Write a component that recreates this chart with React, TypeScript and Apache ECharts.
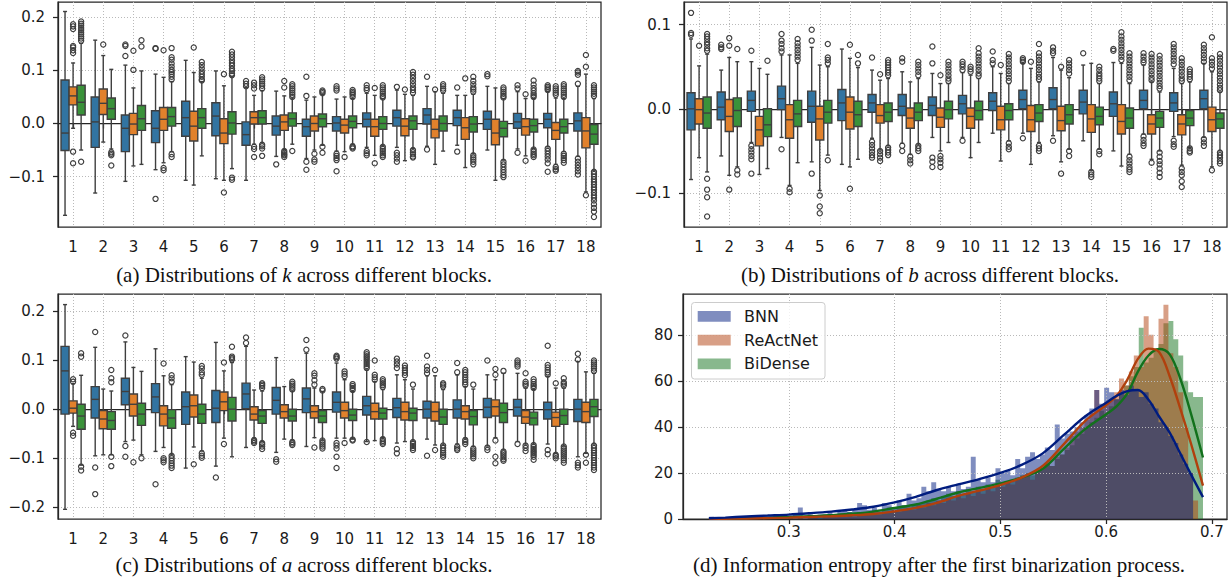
import { useEffect, useRef } from 'react';
import * as echarts from 'echarts';

const BLOCKS = ['1', '2', '3', '4', '5', '6', '7', '8', '9', '10', '11', '12', '13', '14', '15', '16', '17', '18'];
const HUE_COLORS = ['#3274a1', '#e1812c', '#3a923a'];
const DARK_COLORS = ['#001c7f', '#b1400d', '#12711c'];
const LEGEND_LABELS = ['BNN', 'ReActNet', 'BiDense'];

// ---------- (a) k : [lower whisker, Q1, median, Q3, upper whisker] ----------
const K_BLUE = [
  [-0.173, -0.051, -0.018, 0.082, 0.211], [-0.131, -0.045, 0.003, 0.05, 0.157], [-0.109, -0.053, -0.009, 0.016, 0.11],
  [-0.087, -0.036, -0.009, 0.024, 0.093], [-0.107, -0.024, 0.011, 0.042, 0.119], [-0.104, -0.023, 0.014, 0.039, 0.099],
  [-0.107, -0.041, -0.021, 0.003, 0.068], [-0.062, -0.022, -0.005, 0.014, 0.061], [-0.066, -0.024, -0.006, 0.008, 0.044],
  [-0.052, -0.014, 0.001, 0.013, 0.046], [-0.045, -0.006, 0.008, 0.02, 0.057], [-0.045, -0.005, 0.011, 0.025, 0.063],
  [-0.043, -0.001, 0.016, 0.028, 0.07], [-0.041, -0.004, 0.011, 0.025, 0.053], [-0.05, -0.011, 0.008, 0.023, 0.07],
  [-0.048, -0.009, 0.003, 0.019, 0.06], [-0.044, -0.008, 0.008, 0.019, 0.06], [-0.062, -0.014, 0.005, 0.02, 0.07],
];
const K_ORANGE = [
  [-0.009, 0.035, 0.052, 0.069, 0.114], [-0.035, 0.017, 0.038, 0.065, 0.128], [-0.08, -0.021, -0.001, 0.019, 0.067],
  [-0.074, -0.013, 0.008, 0.03, 0.087], [-0.116, -0.033, -0.005, 0.023, 0.096], [-0.107, -0.038, -0.018, 0.009, 0.071],
  [-0.039, -0.001, 0.011, 0.022, 0.053], [-0.049, -0.013, 0.003, 0.016, 0.052], [-0.05, -0.014, 0.0, 0.014, 0.05],
  [-0.053, -0.018, -0.003, 0.008, 0.05], [-0.06, -0.024, -0.006, 0.008, 0.053], [-0.07, -0.023, -0.005, 0.009, 0.055],
  [-0.077, -0.027, -0.011, 0.008, 0.06], [-0.083, -0.03, -0.008, 0.011, 0.053], [-0.107, -0.04, -0.018, 0.008, 0.067],
  [-0.061, -0.022, -0.006, 0.009, 0.047], [-0.077, -0.03, -0.013, 0.002, 0.048], [-0.129, -0.046, -0.014, 0.011, 0.093],
];
const K_GREEN = [
  [-0.05, 0.016, 0.04, 0.072, 0.151], [-0.048, 0.008, 0.028, 0.048, 0.102], [-0.077, -0.013, 0.009, 0.034, 0.099],
  [-0.053, -0.005, 0.013, 0.03, 0.079], [-0.061, -0.009, 0.011, 0.028, 0.079], [-0.085, -0.02, 0.001, 0.022, 0.088],
  [-0.036, -0.001, 0.011, 0.024, 0.062], [-0.039, -0.005, 0.009, 0.02, 0.048], [-0.041, -0.006, 0.009, 0.018, 0.055],
  [-0.039, -0.008, 0.004, 0.014, 0.047], [-0.042, -0.011, 0.0, 0.013, 0.047], [-0.047, -0.011, 0.005, 0.014, 0.053],
  [-0.052, -0.014, 0.0, 0.014, 0.057], [-0.057, -0.016, -0.001, 0.013, 0.055], [-0.069, -0.025, -0.009, 0.004, 0.047],
  [-0.047, -0.016, -0.004, 0.008, 0.047], [-0.053, -0.018, -0.006, 0.008, 0.047], [-0.088, -0.039, -0.02, -0.002, 0.047],
];
const K_BLUE_OUT = [
  [], [], [0.149, 0.146, 0.127], [0.142, 0.141, -0.142], [], [], [0.08, 0.075, 0.07], [-0.077],
  [0.088, 0.052, -0.072, -0.087], [0.07, 0.066, 0.062, -0.057, -0.061, -0.065, -0.069, -0.09],
  [0.072, 0.067, 0.063, -0.052, -0.056, -0.06], [0.069, -0.055, -0.06, -0.066, -0.072], [0.088, -0.049], [0.068, -0.053],
  [0.093, 0.089], [0.072, 0.066, -0.055], [0.072, 0.069, 0.066, 0.063, -0.047, -0.052, -0.057, -0.062, -0.068, -0.075, -0.091],
  [0.099, 0.096, 0.092, 0.075, -0.066, -0.072, -0.078, -0.084, -0.09, -0.096],
];
const K_ORANGE_OUT = [
  [0.187, 0.183, 0.178, 0.146, 0.143, 0.138, 0.133, -0.053, -0.075], [0.149], [0.137, 0.101], [0.138, -0.084, -0.088],
  [0.143], [0.093, -0.13], [0.077, 0.072, 0.066, -0.044, -0.048, -0.063], [0.08, 0.068, -0.052, -0.055, -0.058, -0.06, -0.063],
  [-0.057, -0.068, -0.072], [-0.063], [0.067, -0.075], [0.064], [0.064], [0.085], [], [0.055, -0.07],
  [0.07, 0.066, 0.062, 0.058, 0.054, -0.082, -0.086, -0.089], [0.129, 0.107, -0.135],
];
const K_GREEN_OUT = [
  [0.192, 0.188, 0.184, 0.18, 0.176, 0.172, 0.168, 0.164, 0.16, 0.156, -0.072], [-0.054, -0.057, -0.06, -0.079], [0.157, 0.145],
  [0.142, 0.125, 0.12, 0.113, 0.107, 0.101, 0.097, 0.093, 0.088, 0.083, -0.058, -0.063],
  [0.116, 0.11, 0.104, 0.098, 0.093, 0.088, 0.083, 0.081],
  [0.135, 0.13, 0.125, 0.119, 0.114, 0.109, 0.103, 0.099, 0.094, 0.091, -0.102, -0.106],
  [0.087, 0.083, 0.079, 0.075, 0.071, 0.066, -0.04, -0.043, -0.047, -0.061], [0.074, 0.07, 0.066, 0.062, 0.058, 0.054, 0.05, -0.052],
  [0.062, 0.06, 0.057, -0.044, -0.055], [0.063, 0.06, 0.057, 0.054, 0.05, -0.043, -0.045, -0.047],
  [0.072, 0.068, 0.064, 0.06, 0.056, 0.052, 0.049, -0.044, -0.048, -0.052, -0.056, -0.06, -0.063],
  [0.097, 0.092, 0.086, 0.08, 0.074, 0.068, 0.063, 0.058, -0.05, -0.054, -0.058, -0.062, -0.064], [0.074, 0.07, 0.066, 0.062],
  [0.088, 0.08, 0.074, 0.068, 0.064, 0.06, -0.06, -0.064, -0.068, -0.072, -0.077],
  [0.068, 0.064, 0.06, 0.056, 0.052, 0.049, -0.072, -0.077, -0.082, -0.087, -0.092, -0.097, -0.101],
  [0.081, 0.073, 0.067, 0.062, 0.057, 0.053, 0.05, -0.049, -0.053, -0.057, -0.06, -0.063],
  [0.074, 0.07, 0.066, 0.062, 0.058, 0.054, 0.05, -0.057, -0.061, -0.065, -0.069, -0.074],
  [0.072, 0.068, 0.064, 0.06, 0.056, 0.052, -0.091, -0.095, -0.1, -0.105, -0.11, -0.115, -0.12, -0.125, -0.13, -0.135, -0.14, -0.145, -0.152, -0.159, -0.166, -0.176],
];

// ---------- (b) b ----------
const B_BLUE = [
  [-0.084, -0.025, 0.0, 0.019, 0.083], [-0.056, -0.013, 0.002, 0.02, 0.046], [-0.04, -0.003, 0.01, 0.021, 0.056],
  [-0.034, -0.001, 0.012, 0.027, 0.064], [-0.063, -0.016, 0.003, 0.021, 0.073], [-0.066, -0.014, 0.007, 0.023, 0.071],
  [-0.035, -0.004, 0.007, 0.017, 0.046], [-0.041, -0.008, 0.003, 0.017, 0.044], [-0.034, -0.008, 0.004, 0.014, 0.042],
  [-0.034, -0.006, 0.006, 0.016, 0.043], [-0.029, -0.002, 0.009, 0.019, 0.05], [-0.029, 0.0, 0.011, 0.022, 0.054],
  [-0.032, 0.0, 0.011, 0.025, 0.061], [-0.038, -0.006, 0.008, 0.022, 0.052], [-0.05, -0.009, 0.006, 0.02, 0.055],
  [-0.03, 0.0, 0.01, 0.022, 0.052], [-0.033, -0.003, 0.007, 0.019, 0.048], [-0.034, 0.0, 0.012, 0.022, 0.054],
];
const B_ORANGE = [
  [-0.058, -0.018, -0.001, 0.012, 0.051], [-0.079, -0.027, -0.009, 0.011, 0.061], [-0.078, -0.044, -0.025, -0.009, 0.048],
  [-0.091, -0.035, -0.013, 0.005, 0.064], [-0.097, -0.037, -0.012, 0.003, 0.052], [-0.069, -0.024, -0.004, 0.014, 0.06],
  [-0.049, -0.017, -0.008, 0.005, 0.034], [-0.054, -0.023, -0.011, 0.001, 0.032], [-0.05, -0.022, -0.01, 0.001, 0.03],
  [-0.058, -0.023, -0.009, 0.001, 0.04], [-0.062, -0.025, -0.013, 0.003, 0.042], [-0.066, -0.027, -0.013, 0.004, 0.048],
  [-0.063, -0.026, -0.014, 0.003, 0.046], [-0.073, -0.028, -0.012, 0.005, 0.054], [-0.068, -0.03, -0.015, 0.005, 0.054],
  [-0.06, -0.03, -0.018, -0.007, 0.032], [-0.067, -0.031, -0.018, -0.007, 0.03], [-0.069, -0.027, -0.013, 0.002, 0.044],
];
const B_GREEN = [
  [-0.075, -0.023, -0.005, 0.014, 0.065], [-0.069, -0.021, -0.002, 0.013, 0.056], [-0.071, -0.033, -0.019, 0.0, 0.041],
  [-0.064, -0.021, -0.006, 0.01, 0.054], [-0.055, -0.017, -0.004, 0.01, 0.05], [-0.06, -0.021, -0.007, 0.009, 0.049],
  [-0.044, -0.015, -0.004, 0.007, 0.036], [-0.043, -0.014, -0.004, 0.007, 0.036], [-0.04, -0.012, -0.001, 0.009, 0.03],
  [-0.04, -0.013, -0.002, 0.009, 0.036], [-0.038, -0.013, -0.002, 0.006, 0.03], [-0.04, -0.015, -0.005, 0.005, 0.032],
  [-0.048, -0.018, -0.007, 0.005, 0.037], [-0.048, -0.019, -0.009, 0.002, 0.03], [-0.054, -0.023, -0.011, 0.001, 0.03],
  [-0.05, -0.022, -0.011, -0.003, 0.02], [-0.046, -0.02, -0.011, -0.002, 0.032], [-0.05, -0.023, -0.012, -0.005, 0.02],
];
const B_BLUE_OUT = [
  [0.114, 0.09, 0.088], [0.076, 0.073, 0.071], [0.069, -0.044, -0.048, -0.052, -0.056, -0.06, -0.077],
  [0.089, 0.081, 0.077, 0.072, 0.068, -0.048], [0.094, 0.081, -0.077], [], [0.061, -0.039, -0.043, -0.047, -0.051, -0.055, -0.058],
  [0.06, 0.056, -0.044, -0.05], [0.074, 0.054, -0.058, -0.063, -0.069], [0.056, 0.053, 0.05, 0.046, -0.038], [0.068, 0.058, 0.054],
  [0.06, 0.058, 0.056, -0.035], [0.073, 0.069, 0.066, -0.038], [0.066], [0.071, 0.069],
  [0.066, 0.062, 0.058, 0.055, -0.033, -0.037, -0.041, -0.044], [0.077, 0.073, 0.069, 0.065, 0.061, 0.057, 0.053, -0.038, -0.042, -0.045],
  [0.076, 0.072, 0.068, 0.064, 0.06, 0.056, -0.036, -0.04, -0.044],
];
const B_ORANGE_OUT = [
  [0.075], [0.084, 0.075, -0.096], [], [-0.095, -0.099], [-0.103, -0.116, -0.124], [0.076, -0.095], [0.041, -0.05, -0.054, -0.058, -0.062],
  [-0.057, -0.061, -0.065], [0.04, -0.056, -0.06, -0.064, -0.069], [0.05, 0.047, 0.044], [0.052], [0.056], [0.05, -0.077],
  [-0.075, -0.078, -0.081], [0.091, 0.086, 0.082, 0.078, 0.074, 0.07, 0.066, 0.062, 0.058],
  [0.065, 0.061, 0.057, 0.053, 0.049, 0.045, 0.041, 0.037, 0.034, -0.064],
  [0.06, 0.056, 0.052, 0.048, 0.044, 0.04, 0.036, 0.033, -0.071, -0.075, -0.079, -0.086, -0.093], [0.085, 0.06, 0.056, 0.052, 0.048, -0.073],
];
const B_GREEN_OUT = [
  [0.089, 0.086, 0.083, 0.079, 0.076, 0.072, 0.069, -0.083, -0.096, -0.105, -0.128], [0.071, -0.073, -0.078], [0.057],
  [0.083, 0.078, 0.074, 0.07, 0.066, 0.062, 0.058], [0.077, 0.061, 0.058, 0.054, -0.061], [0.064, 0.054],
  [0.058, 0.055, 0.052, 0.049, 0.046, 0.043, 0.04, -0.046, -0.049, -0.052, -0.055], [0.056, 0.052, 0.048, 0.044, 0.04, -0.044, -0.047, -0.05],
  [0.056, 0.052, 0.048, 0.044, 0.04, 0.036, 0.033], [0.072, 0.066, 0.062, 0.058, 0.054, 0.05, 0.046, 0.042, 0.039],
  [0.065, 0.061, 0.057, 0.053, 0.049, 0.045, 0.041, 0.037, 0.033, -0.041, -0.045, -0.048],
  [0.077, 0.066, 0.062, 0.058, 0.054, 0.05, 0.046, 0.042, 0.038, 0.035, -0.044, -0.047, -0.05],
  [0.058, 0.054, 0.05, 0.046, 0.042, -0.05, -0.056], [0.05, 0.046, 0.042, 0.039, 0.036, 0.033, -0.05, -0.054],
  [0.066, 0.062, 0.058, 0.054, 0.05, 0.046, 0.042, 0.038, 0.034, -0.057, -0.061, -0.065, -0.069, -0.072, -0.075],
  [0.063, 0.059, 0.055, 0.051, 0.047, 0.043, 0.039, 0.035, 0.031, 0.027, 0.024, -0.052, -0.057, -0.062, -0.066, -0.071, -0.076, -0.081],
  [0.047, 0.044, 0.041, 0.038, 0.035, -0.047, -0.05, -0.052],
  [0.065, 0.061, 0.057, 0.053, 0.049, 0.045, 0.041, 0.037, 0.033, 0.029, 0.025, 0.022, -0.052, -0.055, -0.058, -0.062, -0.065],
];

// ---------- (c) a ----------
const A_BLUE = [
  [-0.204, -0.01, 0.078, 0.128, 0.213], [-0.095, -0.018, 0.02, 0.046, 0.126], [-0.066, 0.009, 0.036, 0.063, 0.137],
  [-0.086, -0.007, 0.025, 0.052, 0.123], [-0.12, -0.031, 0.005, 0.035, 0.107], [-0.116, -0.027, 0.002, 0.038, 0.136],
  [-0.078, 0.001, 0.031, 0.053, 0.128], [-0.088, -0.01, 0.018, 0.044, 0.105], [-0.076, -0.007, 0.021, 0.043, 0.114],
  [-0.059, -0.006, 0.014, 0.035, 0.094], [-0.066, -0.012, 0.007, 0.026, 0.08], [-0.069, -0.017, 0.003, 0.022, 0.07],
  [-0.061, -0.018, 0.0, 0.016, 0.068], [-0.071, -0.018, 0.0, 0.019, 0.07], [-0.075, -0.017, 0.004, 0.022, 0.07],
  [-0.066, -0.014, 0.004, 0.02, 0.073], [-0.071, -0.02, -0.001, 0.014, 0.067], [-0.097, -0.025, 0.0, 0.02, 0.097],
];
const A_ORANGE = [
  [-0.035, -0.008, 0.002, 0.017, 0.052], [-0.093, -0.04, -0.02, -0.003, 0.041], [-0.063, -0.014, 0.01, 0.031, 0.085],
  [-0.078, -0.034, -0.01, 0.007, 0.068], [-0.077, -0.016, 0.007, 0.029, 0.096], [-0.059, -0.003, 0.015, 0.035, 0.078],
  [-0.059, -0.022, -0.01, 0.005, 0.039], [-0.061, -0.018, -0.005, 0.009, 0.046], [-0.058, -0.018, -0.005, 0.007, 0.043],
  [-0.059, -0.018, -0.003, 0.014, 0.06], [-0.064, -0.02, -0.005, 0.012, 0.056], [-0.066, -0.022, -0.005, 0.014, 0.06],
  [-0.073, -0.024, -0.005, 0.014, 0.068], [-0.059, -0.02, -0.005, 0.007, 0.046], [-0.058, -0.014, 0.005, 0.019, 0.06],
  [-0.071, -0.029, -0.016, -0.003, 0.043], [-0.09, -0.035, -0.017, -0.006, 0.043], [-0.09, -0.027, -0.005, 0.014, 0.076],
];
const A_GREEN = [
  [-0.114, -0.041, -0.014, 0.01, 0.069], [-0.093, -0.041, -0.023, -0.005, 0.037], [-0.093, -0.033, -0.01, 0.012, 0.077],
  [-0.093, -0.039, -0.018, -0.001, 0.05], [-0.085, -0.029, -0.01, 0.01, 0.063], [-0.097, -0.024, 0.0, 0.024, 0.095],
  [-0.066, -0.029, -0.014, -0.003, 0.037], [-0.063, -0.024, -0.014, 0.0, 0.037], [-0.063, -0.027, -0.014, -0.003, 0.036],
  [-0.061, -0.023, -0.012, 0.0, 0.036], [-0.058, -0.02, -0.008, 0.002, 0.04], [-0.065, -0.023, -0.008, 0.002, 0.041],
  [-0.073, -0.031, -0.016, 0.0, 0.04], [-0.076, -0.032, -0.015, -0.003, 0.041], [-0.083, -0.027, -0.007, 0.012, 0.073],
  [-0.071, -0.032, -0.018, -0.006, 0.04], [-0.075, -0.031, -0.013, 0.0, 0.043], [-0.071, -0.015, 0.005, 0.02, 0.073],
];
const A_BLUE_OUT = [
  [], [0.157, -0.119, -0.173], [0.15, -0.075, -0.097], [-0.153], [], [-0.139], [0.146, 0.135], [-0.102, -0.107], [0.141, 0.121],
  [0.109, 0.106, 0.103, -0.069, -0.074, -0.08, -0.097, -0.12], [0.116, 0.112, 0.108, 0.104, 0.1, 0.096, 0.092, 0.088, 0.084, -0.067],
  [0.103, 0.097, 0.091, 0.084, -0.081, -0.09], [0.109, 0.087, 0.08, 0.073, -0.095], [0.094, 0.075, -0.076, -0.08, -0.083],
  [0.099, -0.078, -0.083], [0.099, 0.095, 0.091, 0.087, -0.071], [0.129, 0.09, 0.085, 0.08, 0.075, 0.07, -0.083, -0.092],
  [0.113, 0.101, -0.109, -0.114, -0.119],
];
const A_ORANGE_OUT = [
  [0.061, 0.056, -0.048, -0.054], [], [-0.108], [0.093, -0.1, -0.104, -0.108], [-0.112], [0.095, -0.071], [-0.063, -0.066, -0.069], [],
  [0.073, 0.068, 0.059, 0.05, -0.078], [0.077, 0.072, 0.067, -0.069], [0.099, 0.07, 0.065, 0.06], [0.089, 0.084, 0.079, 0.074, 0.069],
  [0.08, -0.083], [0.08, 0.075, 0.07, 0.065, 0.06, 0.055, 0.05, -0.063, -0.067, -0.071], [0.082, 0.07, -0.064, -0.097, -0.11],
  [0.073, 0.056, 0.052, 0.048, -0.074, -0.079, -0.085], [0.053, -0.093, -0.096, -0.1], [-0.093, -0.109],
];
const A_GREEN_OUT = [
  [0.114, 0.107, -0.117, -0.125], [0.08, 0.063, 0.055, -0.097, -0.116], [-0.1], [0.069, 0.063, 0.056, -0.095, -0.1, -0.105, -0.11, -0.115, -0.12],
  [0.088, 0.083, 0.075, 0.07, -0.09, -0.095, -0.099], [0.127, 0.107, 0.104, 0.101], [0.053, 0.05, 0.047, 0.043, -0.069, -0.072, -0.076, -0.081],
  [0.056, 0.052, 0.048, 0.044, 0.04, -0.067, -0.07, -0.073], [0.041, 0.038, -0.064, -0.068, -0.072, -0.076, -0.08],
  [0.051, 0.047, 0.043, 0.039, -0.062, -0.064], [0.061, 0.057, 0.053, 0.049, 0.045, -0.061, -0.065, -0.068, -0.071],
  [0.05, -0.067, -0.071, -0.075, -0.079, -0.083], [0.053, 0.05, 0.046, -0.074, -0.079, -0.084, -0.089, -0.093, -0.097],
  [0.05, -0.08, -0.084, -0.088, -0.092, -0.096, -0.1], [0.078, -0.086, -0.09, -0.094, -0.098, -0.102, -0.105],
  [0.061, 0.056, 0.051, 0.047, 0.043, -0.073, -0.077, -0.081, -0.085, -0.089, -0.093, -0.097, -0.103],
  [0.063, 0.055, 0.052, 0.048, -0.076, -0.08, -0.084, -0.088, -0.092, -0.096, -0.1, -0.104, -0.109],
  [0.099, 0.095, 0.091, 0.087, 0.083, 0.078, -0.074, -0.079, -0.084, -0.089, -0.094, -0.099, -0.104, -0.109, -0.114, -0.119, -0.124],
];

// ---------- (d) entropy histograms (100 common bins) + KDE ----------
const HIST_START = 0.2245;
const HIST_WIDTH = 0.00467;
const BNN_COUNTS = [
  1, 0, 0, 0, 0, 0, 1, 0, 1, 0, 1, 1, 0, 2, 1, 1, 1, 2, 5, 1,
  2, 1, 2, 2, 3, 2, 3, 4, 3, 4, 7, 6, 4, 5, 4, 7, 6, 5, 8, 6,
  11, 8, 9, 14, 12, 16, 13, 12, 14, 12, 15, 13, 14, 27, 17, 16, 18, 16, 22, 20,
  21, 19, 26, 22, 27, 29, 26, 28, 31, 30, 41, 35, 37, 38, 40, 42, 45, 48, 56, 50,
  57, 55, 52, 56, 54, 58, 56, 53, 55, 50, 48, 42, 40, 36, 33, 28, 24, 20, 0, 0,
];
const REACTNET_COUNTS = [
  0, 0, 0, 0, 0, 0, 0, 0, 0, 0, 0, 1, 0, 0, 1, 0, 1, 0, 1, 0,
  1, 1, 0, 1, 1, 1, 2, 1, 2, 1, 2, 2, 3, 2, 2, 3, 3, 4, 3, 4,
  5, 4, 6, 5, 7, 6, 8, 7, 9, 8, 10, 9, 11, 10, 12, 11, 13, 12, 15, 14,
  16, 15, 17, 18, 19, 17, 21, 22, 24, 23, 27, 28, 31, 36, 38, 40, 43, 46, 56, 48,
  50, 52, 55, 61, 58, 64, 71, 66, 88, 80, 74, 87, 93, 72, 66, 55, 40, 20, 8, 0,
];
const BIDENSE_COUNTS = [
  0, 0, 0, 0, 0, 0, 0, 0, 0, 0, 0, 0, 0, 0, 0, 0, 1, 0, 1, 0,
  2, 1, 1, 1, 2, 1, 2, 2, 3, 2, 3, 3, 2, 4, 3, 4, 5, 4, 5, 6,
  5, 6, 7, 7, 8, 9, 8, 10, 11, 10, 12, 11, 13, 12, 14, 13, 15, 14, 17, 15,
  16, 17, 18, 19, 20, 19, 21, 22, 24, 23, 26, 28, 30, 32, 35, 37, 40, 42, 44, 47,
  45, 49, 52, 55, 58, 62, 66, 83, 68, 70, 74, 76, 85, 86, 78, 71, 60, 55, 53, 53,
];
const KDE_X = [0.2245, 0.24, 0.26, 0.28, 0.3, 0.32, 0.34, 0.36, 0.38, 0.4, 0.42, 0.44, 0.46, 0.48, 0.5, 0.52, 0.54, 0.56, 0.58, 0.6, 0.61, 0.62, 0.63, 0.64, 0.65, 0.66, 0.67, 0.68, 0.6915];
const BNN_KDE = [0.3, 0.6, 1.1, 1.5, 1.9, 2.5, 3.2, 4.1, 5.3, 7.2, 9.6, 12.6, 15.0, 17.3, 20.0, 23.5, 28.5, 36.5, 44.5, 50.5, 53.5, 55.5, 56.0, 51.8, 44.5, 37.5, 28.5, 19.5, 9.5];
const REACTNET_KDE = [0.05, 0.1, 0.2, 0.4, 0.6, 0.9, 1.2, 1.6, 2.2, 3.3, 4.8, 7.0, 10.0, 12.3, 14.7, 18.0, 23.0, 32.5, 42.5, 49.5, 53.5, 60.5, 69.5, 74.0, 72.5, 62.0, 48.0, 33.0, 14.5];
const BIDENSE_KDE = [0.1, 0.2, 0.4, 0.6, 0.9, 1.2, 1.7, 2.3, 3.2, 4.8, 6.3, 8.8, 11.5, 13.5, 15.5, 18.0, 21.8, 30.5, 39.0, 45.5, 49.0, 54.5, 64.0, 71.0, 73.8, 71.5, 61.0, 46.0, 26.7];

const K_TICKS = [-0.1, 0, 0.1, 0.2];
const B_TICKS = [-0.1, 0, 0.1];
const A_TICKS = [-0.2, -0.1, 0, 0.1, 0.2];
const D_X_TICKS = [0.3, 0.4, 0.5, 0.6, 0.7];
const D_Y_TICKS = [0, 20, 40, 60, 80];

const AX = '#262626';
const TXT = '#1a1a1a';
const GRIDC = '#b9b9b9';
const LINE = '#3f3f3f';

const fmtTick = (v: number) => (v < 0 ? '\u2212' : '') + Math.abs(v).toFixed(1);

function catAxis(gi: number, margin: number) {
  return {
    type: 'category', gridIndex: gi, data: BLOCKS, boundaryGap: true,
    axisLine: { show: true, lineStyle: { color: AX, width: 1.25 } },
    axisTick: { show: true, alignWithLabel: true, interval: 0, length: 5, lineStyle: { color: AX, width: 1.25 } },
    axisLabel: { interval: 0, fontSize: 15, fontFamily: 'DejaVu Sans', color: TXT, margin },
    splitLine: { show: true, alignWithLabel: true, interval: 0, lineStyle: { color: GRIDC, width: 1, type: [1, 2] } },
  };
}

function valAxis(gi: number, min: number, max: number, ticks: number[], splitNumber: number, margin: number, fmt: (v: number) => string, extra: any = {}) {
  return {
    type: 'value', gridIndex: gi, min, max, splitNumber,
    axisLine: { show: true, lineStyle: { color: AX, width: 1.25 } },
    axisTick: { show: true, length: 5, customValues: ticks, lineStyle: { color: AX, width: 1.25 } },
    axisLabel: { fontSize: 15, fontFamily: 'DejaVu Sans', color: TXT, margin, customValues: ticks, formatter: fmt },
    splitLine: { show: true, lineStyle: { color: GRIDC, width: 1, type: [1, 2] } },
    ...extra,
  };
}

function boxSeries(gi: number, hue: number, stats: number[][]) {
  return {
    type: 'custom', xAxisIndex: gi, yAxisIndex: gi, clip: true,
    data: stats.map((s, i) => [i, ...s]),
    encode: { x: 0, y: [1, 2, 3, 4, 5] },
    renderItem: (params: any, api: any) => {
      const idx = api.value(0);
      const band = api.size([1, 0])[0];
      const w = (band * 0.8) / 3;
      const pm = api.coord([idx, api.value(3)]);
      const cx = pm[0] + (hue - 1) * w;
      const yLo = api.coord([idx, api.value(1)])[1];
      const yQ1 = api.coord([idx, api.value(2)])[1];
      const yQ3 = api.coord([idx, api.value(4)])[1];
      const yHi = api.coord([idx, api.value(5)])[1];
      const ls = { stroke: LINE, lineWidth: 1.4, fill: 'none' };
      const cw = w * 0.25;
      return {
        type: 'group',
        children: [
          { type: 'line', shape: { x1: cx, y1: yQ1, x2: cx, y2: yLo }, style: ls },
          { type: 'line', shape: { x1: cx, y1: yQ3, x2: cx, y2: yHi }, style: ls },
          { type: 'line', shape: { x1: cx - cw, y1: yLo, x2: cx + cw, y2: yLo }, style: ls },
          { type: 'line', shape: { x1: cx - cw, y1: yHi, x2: cx + cw, y2: yHi }, style: ls },
          { type: 'rect', shape: { x: cx - w / 2, y: yQ3, width: w, height: yQ1 - yQ3 }, style: { fill: HUE_COLORS[hue], stroke: LINE, lineWidth: 1.4 } },
          { type: 'line', shape: { x1: cx - w / 2, y1: pm[1], x2: cx + w / 2, y2: pm[1] }, style: ls },
        ],
      };
    },
  };
}

function outlierSeries(gi: number, hue: number, outs: number[][]) {
  const data: number[][] = [];
  outs.forEach((vals, i) => vals.forEach((v) => data.push([i, v])));
  return {
    type: 'custom', xAxisIndex: gi, yAxisIndex: gi, clip: true, data,
    encode: { x: 0, y: 1 },
    renderItem: (params: any, api: any) => {
      const idx = api.value(0);
      const band = api.size([1, 0])[0];
      const w = (band * 0.8) / 3;
      const p = api.coord([idx, api.value(1)]);
      return { type: 'circle', shape: { cx: p[0] + (hue - 1) * w, cy: p[1], r: 2.6 }, style: { fill: 'none', stroke: LINE, lineWidth: 1.2 } };
    },
  };
}

function histSeries(counts: number[], color: string) {
  const data = counts.map((c, i) => [HIST_START + i * HIST_WIDTH, c]);
  data.push([HIST_START + counts.length * HIST_WIDTH, counts[counts.length - 1]]);
  return {
    type: 'line', xAxisIndex: 3, yAxisIndex: 3, data, step: 'end', symbol: 'none', z: 2,
    lineStyle: { width: 0, color }, itemStyle: { color }, areaStyle: { color, opacity: 0.5 },
  };
}

function kdeSeries(vals: number[], color: string) {
  return {
    type: 'line', xAxisIndex: 3, yAxisIndex: 3, data: KDE_X.map((x, i) => [x, vals[i]]),
    smooth: 0.35, symbol: 'none', z: 8, lineStyle: { width: 2.4, color }, itemStyle: { color },
  };
}

const CAP_FONT = { fontFamily: 'Liberation Serif', fontSize: 21, lineHeight: 22, fill: '#111' };

function caption(x: number, y: number, prefix: string, v: string) {
  return {
    type: 'text', x, y, z: 50,
    style: {
      text: prefix + ' Distributions of {i|' + v + '} across different blocks.',
      ...CAP_FONT, align: 'center', verticalAlign: 'middle',
      rich: { i: { ...CAP_FONT, fontStyle: 'italic' } },
    },
  };
}

export default function App() {
  const ref = useRef<HTMLDivElement>(null);
  useEffect(() => {
    if (!ref.current) return;
    const chart = echarts.init(ref.current, null, { renderer: 'svg' });
    const legendRows = LEGEND_LABELS.map((name, i) => [
      { type: 'rect', z: 101, shape: { x: 697.7, y: 311 + i * 23.8, width: 33, height: 10.7 }, style: { fill: DARK_COLORS[i], opacity: 0.5 } },
      { type: 'text', z: 101, x: 744, y: 316.3 + i * 23.8, style: { text: name, fontFamily: 'DejaVu Sans', fontSize: 16, fill: TXT, align: 'left', verticalAlign: 'middle' } },
    ]).flat();
    const option: any = {
      animation: false,
      backgroundColor: '#fff',
      grid: [
        { left: 58, top: 2, width: 543, height: 225, show: true, borderColor: AX, borderWidth: 1.25 },
        { left: 684, top: 2, width: 543, height: 225, show: true, borderColor: AX, borderWidth: 1.25 },
        { left: 58, top: 294, width: 543, height: 225, show: true, borderColor: AX, borderWidth: 1.25 },
        { left: 683, top: 294, width: 544, height: 225, show: true, borderColor: AX, borderWidth: 1.25 },
      ],
      xAxis: [
        catAxis(0, 12),
        catAxis(1, 12),
        catAxis(2, 12),
        valAxis(3, 0.2, 0.7142, D_X_TICKS, 5, 5, (v: number) => v.toFixed(1), { z: 5 }),
      ],
      yAxis: [
        valAxis(0, -0.195, 0.2289, K_TICKS, 5, 13, fmtTick),
        valAxis(1, -0.1404, 0.1269, B_TICKS, 3, 13, fmtTick),
        valAxis(2, -0.2237, 0.2346, A_TICKS, 5, 13, fmtTick),
        valAxis(3, 0, 97.7, D_Y_TICKS, 5, 10, (v: number) => String(Math.round(v)), { z: 5 }),
      ],
      series: [
        boxSeries(0, 0, K_BLUE), boxSeries(0, 1, K_ORANGE), boxSeries(0, 2, K_GREEN),
        outlierSeries(0, 0, K_BLUE_OUT), outlierSeries(0, 1, K_ORANGE_OUT), outlierSeries(0, 2, K_GREEN_OUT),
        boxSeries(1, 0, B_BLUE), boxSeries(1, 1, B_ORANGE), boxSeries(1, 2, B_GREEN),
        outlierSeries(1, 0, B_BLUE_OUT), outlierSeries(1, 1, B_ORANGE_OUT), outlierSeries(1, 2, B_GREEN_OUT),
        boxSeries(2, 0, A_BLUE), boxSeries(2, 1, A_ORANGE), boxSeries(2, 2, A_GREEN),
        outlierSeries(2, 0, A_BLUE_OUT), outlierSeries(2, 1, A_ORANGE_OUT), outlierSeries(2, 2, A_GREEN_OUT),
        histSeries(BIDENSE_COUNTS, DARK_COLORS[2]),
        histSeries(REACTNET_COUNTS, DARK_COLORS[1]),
        histSeries(BNN_COUNTS, DARK_COLORS[0]),
        kdeSeries(BIDENSE_KDE, DARK_COLORS[2]),
        kdeSeries(REACTNET_KDE, DARK_COLORS[1]),
        kdeSeries(BNN_KDE, DARK_COLORS[0]),
      ],
      graphic: [
        caption(304, 275, '(a)', 'k'),
        caption(930, 275, '(b)', 'b'),
        caption(304, 565, '(c)', 'a'),
        {
          type: 'text', x: 939, y: 565, z: 50,
          style: { text: '(d) Information entropy after the first binarization process.', ...CAP_FONT, align: 'center', verticalAlign: 'middle' },
        },
        { type: 'rect', z: 100, shape: { x: 691.5, y: 302.5, width: 133.5, height: 76.5, r: 3 }, style: { fill: 'rgba(255,255,255,0.8)', stroke: '#cccccc', lineWidth: 1 } },
        ...legendRows,
      ],
    };
    chart.setOption(option);
    return () => chart.dispose();
  }, []);
  return <div ref={ref} style={{ position: 'absolute', left: 0, top: 0, width: 1230, height: 577 }} />;
}
